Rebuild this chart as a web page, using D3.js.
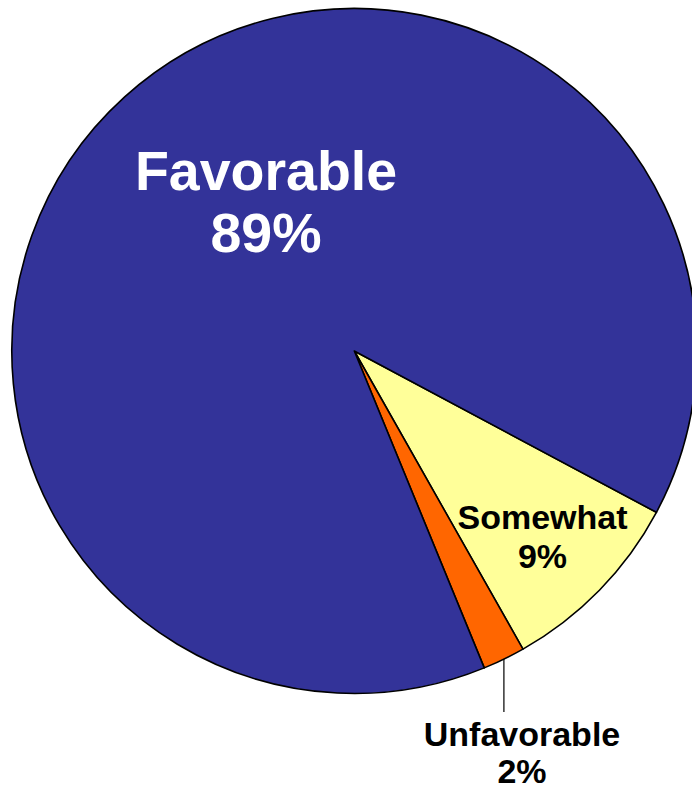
<!DOCTYPE html>
<html>
<head>
<meta charset="utf-8">
<script src="https://cdn.jsdelivr.net/npm/d3@7"></script>
<style>
  html, body { margin: 0; padding: 0; background: #ffffff; }
  svg { display: block; }
  text { font-family: "Liberation Sans", Arial, Helvetica, sans-serif; font-weight: bold; }
</style>
</head>
<body>
<svg id="chart" width="692" height="790"></svg>
<script>
// Survey response shares, in drawing order (clockwise)
const categories = ["Somewhat", "Unfavorable", "Favorable"];
const values = [9, 2, 89];
const colors = ["#FFFF99", "#FF6600", "#333399"];

const W = 692, H = 790;
const cx = 354.3, cy = 351, R = 342.5;
const startDeg = 118.1;

const svg = d3.select("#chart");
const g = svg.append("g").attr("transform", `translate(${cx},${cy})`);

const pie = d3.pie()
  .sort(null)
  .value(d => d.value)
  .startAngle(startDeg * Math.PI / 180)
  .endAngle(startDeg * Math.PI / 180 + 2 * Math.PI);

const data = categories.map((c, i) => ({ name: c, value: values[i], color: colors[i] }));
const arcs = pie(data);
const arc = d3.arc().innerRadius(0).outerRadius(R);

g.selectAll("path.slice")
  .data(arcs)
  .join("path")
  .attr("class", "slice")
  .attr("d", arc)
  .attr("fill", d => d.data.color)
  .attr("stroke", "#000")
  .attr("stroke-width", 1.6)
  .attr("stroke-linejoin", "round");

// Leader line for the small slice
const unf = arcs[1];
const midA = (unf.startAngle + unf.endAngle) / 2;
const lx = R * Math.sin(midA), ly = -R * Math.cos(midA);
svg.append("line")
  .attr("x1", cx + lx).attr("y1", cy + ly)
  .attr("x2", cx + lx).attr("y2", 712)
  .attr("stroke", "#000").attr("stroke-width", 1.2);

// Labels
function label(lines, x, ys, size, fill) {
  lines.forEach((t, i) => {
    svg.append("text")
      .attr("x", x).attr("y", ys[i])
      .attr("text-anchor", "middle")
      .attr("font-size", size)
      .attr("fill", fill)
      .text(t);
  });
}
const pct = d => d.value + "%";
label([categories[2], pct(data[2])], 266, [190, 252], 55.5, "#ffffff");
label([categories[0], pct(data[0])], 542.5, [529, 568], 34, "#000000");
label([categories[1], pct(data[1])], 522, [746, 783], 34, "#000000");
</script>
</body>
</html>
